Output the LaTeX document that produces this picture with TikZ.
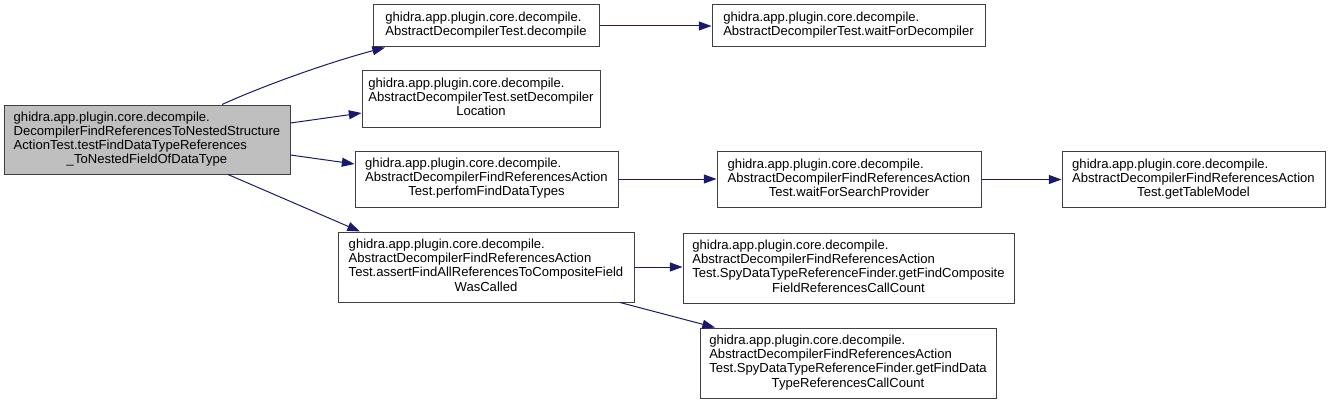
\documentclass[tikz,border=0pt]{standalone}
\usepackage{fontspec}
\setmainfont{Liberation Sans}
\usetikzlibrary{arrows.meta,calc}
\definecolor{edgeblue}{RGB}{25,25,112}
\definecolor{boxgray}{RGB}{64,64,64}
\definecolor{rootfill}{RGB}{191,191,191}
\newcommand\lastln[1]{\multicolumn{1}{@{}c@{}}{#1}}
\newcommand\lns[1]{\begin{tabular}{@{}l@{}}#1\end{tabular}}
\begin{document}
\begin{tikzpicture}[x=0.75pt,y=-0.75pt,
  box/.style={draw=boxgray, line width=0.75pt, fill=white, inner sep=0pt,
    font=\fontsize{9.8pt}{10.6pt}\selectfont, align=center},
  call/.style={draw=edgeblue, line width=0.75pt, -{Triangle[length=9.5pt,width=6.75pt]}}]
\useasboundingbox (0,0) rectangle (1331,403);
\node[box, fill=rootfill, minimum width=214.5pt, minimum height=51.75pt] (root) at (147,139.5)
  {\lns{ghidra.app.plugin.core.decompile.\\DecompilerFindReferencesToNestedStructure\\ActionTest.testFindDataTypeReferences\\\lastln{\_ToNestedFieldOfDataType}}};
\node[box, minimum width=169.5pt, minimum height=31.5pt] (decomp) at (486,26)
  {\lns{ghidra.app.plugin.core.decompile.\\AbstractDecompilerTest.decompile}};
\node[box, minimum width=204.75pt, minimum height=31.5pt] (waitdec) at (848.5,26)
  {\lns{ghidra.app.plugin.core.decompile.\\AbstractDecompilerTest.waitForDecompiler}};
\node[box, minimum width=178.5pt, minimum height=42pt] (setloc) at (481,99)
  {\lns{ghidra.app.plugin.core.decompile.\\AbstractDecompilerTest.setDecompiler\\\lastln{Location}}};
\node[box, minimum width=197.25pt, minimum height=42pt] (perfom) at (486.5,179)
  {\lns{ghidra.app.plugin.core.decompile.\\AbstractDecompilerFindReferencesAction\\\lastln{Test.perfomFindDataTypes}}};
\node[box, minimum width=198pt, minimum height=42pt] (waitsp) at (849,179.5)
  {\lns{ghidra.app.plugin.core.decompile.\\AbstractDecompilerFindReferencesAction\\\lastln{Test.waitForSearchProvider}}};
\node[box, minimum width=197.25pt, minimum height=42pt] (table) at (1193.5,179.5)
  {\lns{ghidra.app.plugin.core.decompile.\\AbstractDecompilerFindReferencesAction\\\lastln{Test.getTableModel}}};
\node[box, minimum width=222pt, minimum height=52.5pt] (assert) at (486,267)
  {\lns{ghidra.app.plugin.core.decompile.\\AbstractDecompilerFindReferencesAction\\Test.assertFindAllReferencesToCompositeField\\\lastln{WasCalled}}};
\node[box, minimum width=248.25pt, minimum height=52.5pt] (comp) at (848.5,268)
  {\lns{ghidra.app.plugin.core.decompile.\\AbstractDecompilerFindReferencesAction\\Test.SpyDataTypeReferenceFinder.getFindComposite\\\lastln{FieldReferencesCallCount}}};
\node[box, minimum width=222pt, minimum height=52.5pt] (dtype) at (848,363)
  {\lns{ghidra.app.plugin.core.decompile.\\AbstractDecompilerFindReferencesAction\\Test.SpyDataTypeReferenceFinder.getFindData\\\lastln{TypeReferencesCallCount}}};
% connectors
\draw[call] ($(root.north)+(75,0)$) .. controls (265,85) and (330,62) .. ($(decomp.south)+(-101,0)$);
\draw[call] ($(root.east)+(0,-16.5)$) -- ($(setloc.west)+(0,14)$);
\draw[call] ($(root.east)+(0,15.5)$) -- ($(perfom.west)+(0,-15)$);
\draw[call] ($(root.south)+(81,0)$) -- ($(assert.north)+(-126,0)$);
\draw[call] (decomp.east) -- (waitdec.west);
\draw[call] (perfom.east) -- ($(waitsp.west)+(0,-0.5)$);
\draw[call] (waitsp.east) -- (table.west);
\draw[call] (assert.east) -- ($(comp.west)+(0,-1)$);
\draw[call] ($(assert.south)+(134,0)$) -- ($(dtype.north)+(-133,0)$);
\end{tikzpicture}
\end{document}
